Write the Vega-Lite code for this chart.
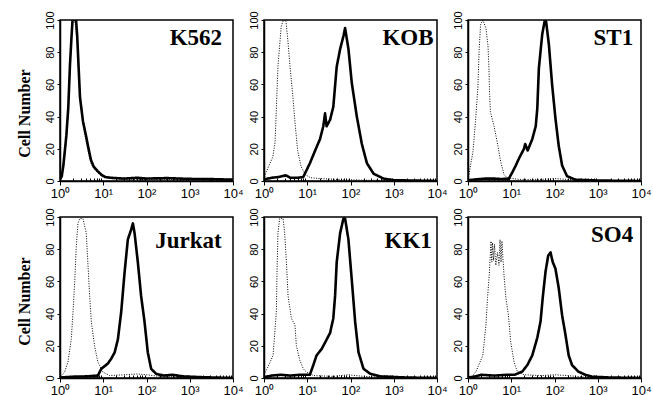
{
  "$schema": "https://vega.github.io/schema/vega-lite/v6.json",
  "background": "white",
  "padding": {"left": 15, "top": 10, "right": 5, "bottom": 2},
  "bounds": "flush",
  "spacing": {"row": 36, "column": 31},
  "columns": 3,
  "config": {
    "view": {"stroke": "black", "strokeWidth": 1.5},
    "axis": {
      "domainColor": "black", "domainWidth": 1.5, "tickColor": "black", "tickWidth": 1,
      "labelFont": "Liberation Sans", "labelColor": "black", "grid": false,
      "titleFont": "Liberation Serif", "titleFontWeight": "bold", "titleColor": "black"
    },
    "axisX": {"labelFontSize": 13, "labelPadding": 2, "labelFlush": false, "labelOverlap": false},
    "axisY": {"labelFontSize": 11, "labelAngle": 270, "labelPadding": 2, "tickSize": 3, "labelFlush": false, "labelOverlap": false, "titlePadding": 12, "titleFontSize": 16},
    "text": {"font": "Liberation Serif", "fontWeight": "bold", "fontSize": 23, "align": "right", "baseline": "middle", "color": "black"},
    "line": {"color": "black", "strokeJoin": "round", "interpolate": "linear"}
  },
  "datasets": {
    "d": [
      {"cell":"K562","type":"ctrl","x":1,"y":1},{"cell":"K562","type":"ctrl","x":1.2,"y":8},{"cell":"K562","type":"ctrl","x":1.4,"y":25},{"cell":"K562","type":"ctrl","x":1.55,"y":42},{"cell":"K562","type":"ctrl","x":1.7,"y":70},{"cell":"K562","type":"ctrl","x":1.85,"y":92},{"cell":"K562","type":"ctrl","x":2.0,"y":100},{"cell":"K562","type":"ctrl","x":2.25,"y":98},{"cell":"K562","type":"ctrl","x":2.5,"y":85},{"cell":"K562","type":"ctrl","x":2.8,"y":60},{"cell":"K562","type":"ctrl","x":3.0,"y":48},{"cell":"K562","type":"ctrl","x":3.4,"y":35},{"cell":"K562","type":"ctrl","x":4.0,"y":25},{"cell":"K562","type":"ctrl","x":4.5,"y":18},{"cell":"K562","type":"ctrl","x":5.2,"y":11},{"cell":"K562","type":"ctrl","x":6,"y":8},{"cell":"K562","type":"ctrl","x":7.5,"y":5},{"cell":"K562","type":"ctrl","x":9,"y":3},{"cell":"K562","type":"ctrl","x":11,"y":2},{"cell":"K562","type":"ctrl","x":15,"y":1.5},{"cell":"K562","type":"ctrl","x":30,"y":1},{"cell":"K562","type":"ctrl","x":100,"y":1},{"cell":"K562","type":"ctrl","x":1000,"y":0.8},{"cell":"K562","type":"ctrl","x":10000,"y":0.3},
      {"cell":"K562","type":"stain","x":1,"y":1},{"cell":"K562","type":"stain","x":1.1,"y":3},{"cell":"K562","type":"stain","x":1.2,"y":10},{"cell":"K562","type":"stain","x":1.4,"y":28},{"cell":"K562","type":"stain","x":1.55,"y":45},{"cell":"K562","type":"stain","x":1.7,"y":72},{"cell":"K562","type":"stain","x":1.85,"y":90},{"cell":"K562","type":"stain","x":1.95,"y":100},{"cell":"K562","type":"stain","x":2.35,"y":100},{"cell":"K562","type":"stain","x":2.5,"y":90},{"cell":"K562","type":"stain","x":2.7,"y":70},{"cell":"K562","type":"stain","x":2.9,"y":52},{"cell":"K562","type":"stain","x":3.4,"y":37},{"cell":"K562","type":"stain","x":4.0,"y":28},{"cell":"K562","type":"stain","x":4.5,"y":21},{"cell":"K562","type":"stain","x":5.2,"y":13},{"cell":"K562","type":"stain","x":6,"y":9},{"cell":"K562","type":"stain","x":7.5,"y":6},{"cell":"K562","type":"stain","x":9,"y":4},{"cell":"K562","type":"stain","x":11,"y":2.5},{"cell":"K562","type":"stain","x":15,"y":2},{"cell":"K562","type":"stain","x":30,"y":1.5},{"cell":"K562","type":"stain","x":60,"y":2},{"cell":"K562","type":"stain","x":100,"y":1.5},{"cell":"K562","type":"stain","x":300,"y":1.8},{"cell":"K562","type":"stain","x":1000,"y":1.3},{"cell":"K562","type":"stain","x":3000,"y":1.2},{"cell":"K562","type":"stain","x":10000,"y":0.8},

      {"cell":"KOB","type":"ctrl","x":1,"y":1},{"cell":"KOB","type":"ctrl","x":1.1,"y":5},{"cell":"KOB","type":"ctrl","x":1.6,"y":15},{"cell":"KOB","type":"ctrl","x":1.8,"y":24},{"cell":"KOB","type":"ctrl","x":1.9,"y":40},{"cell":"KOB","type":"ctrl","x":2.1,"y":71},{"cell":"KOB","type":"ctrl","x":2.5,"y":96},{"cell":"KOB","type":"ctrl","x":2.8,"y":100},{"cell":"KOB","type":"ctrl","x":3.2,"y":100},{"cell":"KOB","type":"ctrl","x":3.6,"y":86},{"cell":"KOB","type":"ctrl","x":4.0,"y":71},{"cell":"KOB","type":"ctrl","x":4.7,"y":51},{"cell":"KOB","type":"ctrl","x":5.3,"y":34},{"cell":"KOB","type":"ctrl","x":6.0,"y":19},{"cell":"KOB","type":"ctrl","x":7.2,"y":9},{"cell":"KOB","type":"ctrl","x":9,"y":4},{"cell":"KOB","type":"ctrl","x":12,"y":2},{"cell":"KOB","type":"ctrl","x":20,"y":1.5},{"cell":"KOB","type":"ctrl","x":50,"y":1},{"cell":"KOB","type":"ctrl","x":200,"y":0.5},{"cell":"KOB","type":"ctrl","x":1000,"y":0.3},{"cell":"KOB","type":"ctrl","x":10000,"y":0},
      {"cell":"KOB","type":"stain","x":1,"y":1},{"cell":"KOB","type":"stain","x":1.5,"y":2},{"cell":"KOB","type":"stain","x":2.2,"y":2.5},{"cell":"KOB","type":"stain","x":3.2,"y":3.5},{"cell":"KOB","type":"stain","x":4,"y":2},{"cell":"KOB","type":"stain","x":6,"y":2},{"cell":"KOB","type":"stain","x":8.1,"y":2.5},{"cell":"KOB","type":"stain","x":11.5,"y":11},{"cell":"KOB","type":"stain","x":16.4,"y":21},{"cell":"KOB","type":"stain","x":19.7,"y":26},{"cell":"KOB","type":"stain","x":23.5,"y":34},{"cell":"KOB","type":"stain","x":25.8,"y":42},{"cell":"KOB","type":"stain","x":28,"y":34},{"cell":"KOB","type":"stain","x":33.7,"y":38},{"cell":"KOB","type":"stain","x":40,"y":46},{"cell":"KOB","type":"stain","x":48,"y":71},{"cell":"KOB","type":"stain","x":57.6,"y":82},{"cell":"KOB","type":"stain","x":68.7,"y":90},{"cell":"KOB","type":"stain","x":75,"y":95},{"cell":"KOB","type":"stain","x":89.6,"y":82},{"cell":"KOB","type":"stain","x":107,"y":61},{"cell":"KOB","type":"stain","x":140,"y":40},{"cell":"KOB","type":"stain","x":183,"y":23},{"cell":"KOB","type":"stain","x":240,"y":11},{"cell":"KOB","type":"stain","x":343,"y":4.5},{"cell":"KOB","type":"stain","x":580,"y":1.5},{"cell":"KOB","type":"stain","x":1000,"y":0.5},{"cell":"KOB","type":"stain","x":10000,"y":0},

      {"cell":"ST1","type":"ctrl","x":1,"y":1},{"cell":"ST1","type":"ctrl","x":1.05,"y":4},{"cell":"ST1","type":"ctrl","x":1.3,"y":18},{"cell":"ST1","type":"ctrl","x":1.5,"y":38},{"cell":"ST1","type":"ctrl","x":1.7,"y":59},{"cell":"ST1","type":"ctrl","x":1.8,"y":80},{"cell":"ST1","type":"ctrl","x":1.95,"y":97},{"cell":"ST1","type":"ctrl","x":2.2,"y":100},{"cell":"ST1","type":"ctrl","x":2.6,"y":95},{"cell":"ST1","type":"ctrl","x":2.9,"y":84},{"cell":"ST1","type":"ctrl","x":3.05,"y":70},{"cell":"ST1","type":"ctrl","x":3.15,"y":55},{"cell":"ST1","type":"ctrl","x":3.3,"y":43},{"cell":"ST1","type":"ctrl","x":4.0,"y":34},{"cell":"ST1","type":"ctrl","x":4.9,"y":22},{"cell":"ST1","type":"ctrl","x":5.7,"y":12},{"cell":"ST1","type":"ctrl","x":6.8,"y":4},{"cell":"ST1","type":"ctrl","x":8,"y":2},{"cell":"ST1","type":"ctrl","x":15,"y":1},{"cell":"ST1","type":"ctrl","x":50,"y":1},{"cell":"ST1","type":"ctrl","x":100,"y":1.5},{"cell":"ST1","type":"ctrl","x":200,"y":1},{"cell":"ST1","type":"ctrl","x":1000,"y":0.3},{"cell":"ST1","type":"ctrl","x":10000,"y":0},
      {"cell":"ST1","type":"stain","x":1,"y":0.5},{"cell":"ST1","type":"stain","x":1.5,"y":1},{"cell":"ST1","type":"stain","x":2.5,"y":1.5},{"cell":"ST1","type":"stain","x":4,"y":1.5},{"cell":"ST1","type":"stain","x":6,"y":1.2},{"cell":"ST1","type":"stain","x":8.8,"y":1.5},{"cell":"ST1","type":"stain","x":10.6,"y":5.4},{"cell":"ST1","type":"stain","x":12.7,"y":9.6},{"cell":"ST1","type":"stain","x":15.1,"y":14},{"cell":"ST1","type":"stain","x":19.7,"y":20},{"cell":"ST1","type":"stain","x":21,"y":23},{"cell":"ST1","type":"stain","x":24,"y":19},{"cell":"ST1","type":"stain","x":30.6,"y":26},{"cell":"ST1","type":"stain","x":36.8,"y":34},{"cell":"ST1","type":"stain","x":40,"y":45},{"cell":"ST1","type":"stain","x":43.5,"y":70},{"cell":"ST1","type":"stain","x":52,"y":91},{"cell":"ST1","type":"stain","x":58.8,"y":99},{"cell":"ST1","type":"stain","x":64,"y":99},{"cell":"ST1","type":"stain","x":74,"y":85},{"cell":"ST1","type":"stain","x":88,"y":60},{"cell":"ST1","type":"stain","x":105,"y":39},{"cell":"ST1","type":"stain","x":125,"y":22},{"cell":"ST1","type":"stain","x":150,"y":9.6},{"cell":"ST1","type":"stain","x":195,"y":3},{"cell":"ST1","type":"stain","x":305,"y":0.8},{"cell":"ST1","type":"stain","x":1000,"y":0.3},{"cell":"ST1","type":"stain","x":10000,"y":0},

      {"cell":"Jurkat","type":"ctrl","x":1,"y":0.5},{"cell":"Jurkat","type":"ctrl","x":1.28,"y":3.7},{"cell":"Jurkat","type":"ctrl","x":1.53,"y":10},{"cell":"Jurkat","type":"ctrl","x":1.82,"y":24},{"cell":"Jurkat","type":"ctrl","x":2.0,"y":41},{"cell":"Jurkat","type":"ctrl","x":2.2,"y":61},{"cell":"Jurkat","type":"ctrl","x":2.38,"y":82},{"cell":"Jurkat","type":"ctrl","x":2.6,"y":96},{"cell":"Jurkat","type":"ctrl","x":2.85,"y":99},{"cell":"Jurkat","type":"ctrl","x":3.4,"y":99},{"cell":"Jurkat","type":"ctrl","x":4.05,"y":90},{"cell":"Jurkat","type":"ctrl","x":4.4,"y":72},{"cell":"Jurkat","type":"ctrl","x":4.85,"y":51},{"cell":"Jurkat","type":"ctrl","x":5.3,"y":35},{"cell":"Jurkat","type":"ctrl","x":6.3,"y":20},{"cell":"Jurkat","type":"ctrl","x":7.5,"y":10},{"cell":"Jurkat","type":"ctrl","x":9.8,"y":3.7},{"cell":"Jurkat","type":"ctrl","x":14,"y":1.5},{"cell":"Jurkat","type":"ctrl","x":30,"y":2},{"cell":"Jurkat","type":"ctrl","x":60,"y":2.5},{"cell":"Jurkat","type":"ctrl","x":100,"y":2},{"cell":"Jurkat","type":"ctrl","x":200,"y":1},{"cell":"Jurkat","type":"ctrl","x":1000,"y":0.3},{"cell":"Jurkat","type":"ctrl","x":10000,"y":0},
      {"cell":"Jurkat","type":"stain","x":1,"y":0.3},{"cell":"Jurkat","type":"stain","x":2,"y":0.8},{"cell":"Jurkat","type":"stain","x":4,"y":1},{"cell":"Jurkat","type":"stain","x":7.5,"y":1.5},{"cell":"Jurkat","type":"stain","x":9,"y":5.7},{"cell":"Jurkat","type":"stain","x":12.8,"y":9},{"cell":"Jurkat","type":"stain","x":15.3,"y":12},{"cell":"Jurkat","type":"stain","x":18.4,"y":16},{"cell":"Jurkat","type":"stain","x":21.8,"y":24},{"cell":"Jurkat","type":"stain","x":26,"y":41},{"cell":"Jurkat","type":"stain","x":31,"y":65},{"cell":"Jurkat","type":"stain","x":37,"y":86},{"cell":"Jurkat","type":"stain","x":44,"y":92},{"cell":"Jurkat","type":"stain","x":48.5,"y":96},{"cell":"Jurkat","type":"stain","x":53,"y":90},{"cell":"Jurkat","type":"stain","x":63,"y":72},{"cell":"Jurkat","type":"stain","x":75,"y":51},{"cell":"Jurkat","type":"stain","x":90,"y":35},{"cell":"Jurkat","type":"stain","x":107,"y":16},{"cell":"Jurkat","type":"stain","x":128,"y":5.7},{"cell":"Jurkat","type":"stain","x":167,"y":2.6},{"cell":"Jurkat","type":"stain","x":250,"y":1.5},{"cell":"Jurkat","type":"stain","x":400,"y":2},{"cell":"Jurkat","type":"stain","x":700,"y":1},{"cell":"Jurkat","type":"stain","x":2000,"y":0.5},{"cell":"Jurkat","type":"stain","x":10000,"y":0},

      {"cell":"KK1","type":"ctrl","x":1,"y":2},{"cell":"KK1","type":"ctrl","x":1.24,"y":7},{"cell":"KK1","type":"ctrl","x":1.62,"y":14},{"cell":"KK1","type":"ctrl","x":1.93,"y":41},{"cell":"KK1","type":"ctrl","x":2.0,"y":65},{"cell":"KK1","type":"ctrl","x":2.1,"y":90},{"cell":"KK1","type":"ctrl","x":2.3,"y":99},{"cell":"KK1","type":"ctrl","x":2.77,"y":99},{"cell":"KK1","type":"ctrl","x":3.0,"y":90},{"cell":"KK1","type":"ctrl","x":3.3,"y":72},{"cell":"KK1","type":"ctrl","x":3.6,"y":51},{"cell":"KK1","type":"ctrl","x":4.3,"y":37},{"cell":"KK1","type":"ctrl","x":5.2,"y":33},{"cell":"KK1","type":"ctrl","x":5.6,"y":20},{"cell":"KK1","type":"ctrl","x":6.75,"y":11},{"cell":"KK1","type":"ctrl","x":8.1,"y":5.7},{"cell":"KK1","type":"ctrl","x":9.6,"y":3.7},{"cell":"KK1","type":"ctrl","x":14,"y":1.5},{"cell":"KK1","type":"ctrl","x":40,"y":1},{"cell":"KK1","type":"ctrl","x":90,"y":2},{"cell":"KK1","type":"ctrl","x":200,"y":1},{"cell":"KK1","type":"ctrl","x":1000,"y":0.3},{"cell":"KK1","type":"ctrl","x":10000,"y":0},
      {"cell":"KK1","type":"stain","x":1,"y":0.5},{"cell":"KK1","type":"stain","x":1.5,"y":1.5},{"cell":"KK1","type":"stain","x":2.5,"y":2},{"cell":"KK1","type":"stain","x":4,"y":1.5},{"cell":"KK1","type":"stain","x":7,"y":2},{"cell":"KK1","type":"stain","x":11.5,"y":2},{"cell":"KK1","type":"stain","x":13.8,"y":8},{"cell":"KK1","type":"stain","x":16.4,"y":14},{"cell":"KK1","type":"stain","x":21.5,"y":18},{"cell":"KK1","type":"stain","x":25.8,"y":22},{"cell":"KK1","type":"stain","x":33.7,"y":28},{"cell":"KK1","type":"stain","x":40,"y":37},{"cell":"KK1","type":"stain","x":44,"y":51},{"cell":"KK1","type":"stain","x":48,"y":72},{"cell":"KK1","type":"stain","x":57.6,"y":90},{"cell":"KK1","type":"stain","x":68.7,"y":99},{"cell":"KK1","type":"stain","x":75,"y":99},{"cell":"KK1","type":"stain","x":89.6,"y":86},{"cell":"KK1","type":"stain","x":107,"y":61},{"cell":"KK1","type":"stain","x":128,"y":35},{"cell":"KK1","type":"stain","x":153,"y":16},{"cell":"KK1","type":"stain","x":200,"y":5.7},{"cell":"KK1","type":"stain","x":287,"y":2.6},{"cell":"KK1","type":"stain","x":500,"y":1},{"cell":"KK1","type":"stain","x":2000,"y":0.3},{"cell":"KK1","type":"stain","x":10000,"y":0},

      {"cell":"SO4","type":"ctrl","x":1.2,"y":0.5},{"cell":"SO4","type":"ctrl","x":1.53,"y":4},{"cell":"SO4","type":"ctrl","x":2.2,"y":14},{"cell":"SO4","type":"ctrl","x":2.6,"y":33},{"cell":"SO4","type":"ctrl","x":2.83,"y":50},{"cell":"SO4","type":"ctrl","x":3.1,"y":64},{"cell":"SO4","type":"ctrl","x":3.4,"y":85},{"cell":"SO4","type":"ctrl","x":3.55,"y":72},{"cell":"SO4","type":"ctrl","x":3.7,"y":84},{"cell":"SO4","type":"ctrl","x":3.9,"y":73},{"cell":"SO4","type":"ctrl","x":4.1,"y":83},{"cell":"SO4","type":"ctrl","x":4.4,"y":70},{"cell":"SO4","type":"ctrl","x":4.8,"y":78},{"cell":"SO4","type":"ctrl","x":5.2,"y":70},{"cell":"SO4","type":"ctrl","x":5.5,"y":86},{"cell":"SO4","type":"ctrl","x":5.8,"y":72},{"cell":"SO4","type":"ctrl","x":6.1,"y":85},{"cell":"SO4","type":"ctrl","x":6.4,"y":75},{"cell":"SO4","type":"ctrl","x":6.8,"y":64},{"cell":"SO4","type":"ctrl","x":7.5,"y":50},{"cell":"SO4","type":"ctrl","x":8.6,"y":39},{"cell":"SO4","type":"ctrl","x":9.7,"y":22.5},{"cell":"SO4","type":"ctrl","x":11.6,"y":10},{"cell":"SO4","type":"ctrl","x":13.8,"y":4},{"cell":"SO4","type":"ctrl","x":20,"y":2},{"cell":"SO4","type":"ctrl","x":50,"y":1.5},{"cell":"SO4","type":"ctrl","x":100,"y":2},{"cell":"SO4","type":"ctrl","x":200,"y":1.5},{"cell":"SO4","type":"ctrl","x":500,"y":0.5},{"cell":"SO4","type":"ctrl","x":10000,"y":0},
      {"cell":"SO4","type":"stain","x":1,"y":0.3},{"cell":"SO4","type":"stain","x":1.5,"y":1},{"cell":"SO4","type":"stain","x":2,"y":2},{"cell":"SO4","type":"stain","x":4,"y":1.5},{"cell":"SO4","type":"stain","x":8,"y":2},{"cell":"SO4","type":"stain","x":12,"y":2},{"cell":"SO4","type":"stain","x":18,"y":4},{"cell":"SO4","type":"stain","x":23.5,"y":8},{"cell":"SO4","type":"stain","x":30.6,"y":14},{"cell":"SO4","type":"stain","x":40,"y":25},{"cell":"SO4","type":"stain","x":47.5,"y":35},{"cell":"SO4","type":"stain","x":53.5,"y":50},{"cell":"SO4","type":"stain","x":62,"y":66},{"cell":"SO4","type":"stain","x":71.5,"y":76},{"cell":"SO4","type":"stain","x":81,"y":78},{"cell":"SO4","type":"stain","x":91,"y":72},{"cell":"SO4","type":"stain","x":105,"y":68},{"cell":"SO4","type":"stain","x":125,"y":56},{"cell":"SO4","type":"stain","x":150,"y":39},{"cell":"SO4","type":"stain","x":179,"y":27},{"cell":"SO4","type":"stain","x":213,"y":14},{"cell":"SO4","type":"stain","x":255,"y":8},{"cell":"SO4","type":"stain","x":355,"y":4},{"cell":"SO4","type":"stain","x":515,"y":2},{"cell":"SO4","type":"stain","x":735,"y":0.8},{"cell":"SO4","type":"stain","x":2000,"y":0.3},{"cell":"SO4","type":"stain","x":10000,"y":0}
    ]
  },
  "concat": [
    {"width": 173, "height": 161, "layer": [
      {"data": {"name": "d"}, "transform": [{"filter": "datum.cell == 'K562'"}], "mark": {"type": "line", "clip": true},
       "encoding": {
         "x": {"field": "x", "type": "quantitative", "scale": {"type": "log", "domain": [1, 10000], "nice": false}, "title": null,
               "axis": {"values": [1,2,3,4,5,6,7,8,9,10,20,30,40,50,60,70,80,90,100,200,300,400,500,600,700,800,900,1000,2000,3000,4000,5000,6000,7000,8000,9000,10000],
                        "labelExpr": "datum.value == 1 ? '10⁰' : datum.value == 10 ? '10¹' : datum.value == 100 ? '10²' : datum.value == 1000 ? '10³' : datum.value == 10000 ? '10⁴' : ''",
                        "tickSize": {"condition": {"test": "indexof([1,10,100,1000,10000], datum.value) >= 0", "value": 4}, "value": -3}}},
         "y": {"field": "y", "type": "quantitative", "scale": {"domain": [0, 100], "nice": false}, "title": "Cell Number", "axis": {"values": [0,20,40,60,80,100], "labelOverlap": false, "titleY": 93}},
         "detail": {"field": "type"},
         "strokeWidth": {"field": "type", "scale": {"domain": ["ctrl", "stain"], "range": [1, 2.6]}, "legend": null},
         "strokeDash": {"field": "type", "scale": {"domain": ["ctrl", "stain"], "range": [[1, 1.5], [1, 0]]}, "legend": null}
       }},
      {"data": {"values": [{"label": "K562"}]}, "mark": {"type": "text"},
       "encoding": {"text": {"field": "label"}, "x": {"datum": 5600, "type": "quantitative"},
         "y": {"datum": 89, "type": "quantitative", "title": "Cell Number", "axis": {"values": [0,20,40,60,80,100], "labelOverlap": false, "titleY": 93}}}}
    ]},
    {"width": 173, "height": 161, "layer": [
      {"data": {"name": "d"}, "transform": [{"filter": "datum.cell == 'KOB'"}], "mark": {"type": "line", "clip": true},
       "encoding": {
         "x": {"field": "x", "type": "quantitative", "scale": {"type": "log", "domain": [1, 10000], "nice": false}, "title": null,
               "axis": {"values": [1,2,3,4,5,6,7,8,9,10,20,30,40,50,60,70,80,90,100,200,300,400,500,600,700,800,900,1000,2000,3000,4000,5000,6000,7000,8000,9000,10000],
                        "labelExpr": "datum.value == 1 ? '10⁰' : datum.value == 10 ? '10¹' : datum.value == 100 ? '10²' : datum.value == 1000 ? '10³' : datum.value == 10000 ? '10⁴' : ''",
                        "tickSize": {"condition": {"test": "indexof([1,10,100,1000,10000], datum.value) >= 0", "value": 4}, "value": -3}}},
         "y": {"field": "y", "type": "quantitative", "scale": {"domain": [0, 100], "nice": false}, "title": null, "axis": {"values": [0,20,40,60,80,100], "labelOverlap": false}},
         "detail": {"field": "type"},
         "strokeWidth": {"field": "type", "scale": {"domain": ["ctrl", "stain"], "range": [1, 2.6]}, "legend": null},
         "strokeDash": {"field": "type", "scale": {"domain": ["ctrl", "stain"], "range": [[1, 1.5], [1, 0]]}, "legend": null}
       }},
      {"data": {"values": [{"label": "KOB"}]}, "mark": {"type": "text"},
       "encoding": {"text": {"field": "label"}, "x": {"datum": 8300, "type": "quantitative"},
         "y": {"datum": 89, "type": "quantitative", "title": null, "axis": {"values": [0,20,40,60,80,100], "labelOverlap": false}}}}
    ]},
    {"width": 173, "height": 161, "layer": [
      {"data": {"name": "d"}, "transform": [{"filter": "datum.cell == 'ST1'"}], "mark": {"type": "line", "clip": true},
       "encoding": {
         "x": {"field": "x", "type": "quantitative", "scale": {"type": "log", "domain": [1, 10000], "nice": false}, "title": null,
               "axis": {"values": [1,2,3,4,5,6,7,8,9,10,20,30,40,50,60,70,80,90,100,200,300,400,500,600,700,800,900,1000,2000,3000,4000,5000,6000,7000,8000,9000,10000],
                        "labelExpr": "datum.value == 1 ? '10⁰' : datum.value == 10 ? '10¹' : datum.value == 100 ? '10²' : datum.value == 1000 ? '10³' : datum.value == 10000 ? '10⁴' : ''",
                        "tickSize": {"condition": {"test": "indexof([1,10,100,1000,10000], datum.value) >= 0", "value": 4}, "value": -3}}},
         "y": {"field": "y", "type": "quantitative", "scale": {"domain": [0, 100], "nice": false}, "title": null, "axis": {"values": [0,20,40,60,80,100], "labelOverlap": false}},
         "detail": {"field": "type"},
         "strokeWidth": {"field": "type", "scale": {"domain": ["ctrl", "stain"], "range": [1, 2.6]}, "legend": null},
         "strokeDash": {"field": "type", "scale": {"domain": ["ctrl", "stain"], "range": [[1, 1.5], [1, 0]]}, "legend": null}
       }},
      {"data": {"values": [{"label": "ST1"}]}, "mark": {"type": "text"},
       "encoding": {"text": {"field": "label"}, "x": {"datum": 6600, "type": "quantitative"},
         "y": {"datum": 89, "type": "quantitative", "title": null, "axis": {"values": [0,20,40,60,80,100], "labelOverlap": false}}}}
    ]},
    {"width": 173, "height": 161, "layer": [
      {"data": {"name": "d"}, "transform": [{"filter": "datum.cell == 'Jurkat'"}], "mark": {"type": "line", "clip": true},
       "encoding": {
         "x": {"field": "x", "type": "quantitative", "scale": {"type": "log", "domain": [1, 10000], "nice": false}, "title": null,
               "axis": {"values": [1,2,3,4,5,6,7,8,9,10,20,30,40,50,60,70,80,90,100,200,300,400,500,600,700,800,900,1000,2000,3000,4000,5000,6000,7000,8000,9000,10000],
                        "labelExpr": "datum.value == 1 ? '10⁰' : datum.value == 10 ? '10¹' : datum.value == 100 ? '10²' : datum.value == 1000 ? '10³' : datum.value == 10000 ? '10⁴' : ''",
                        "tickSize": {"condition": {"test": "indexof([1,10,100,1000,10000], datum.value) >= 0", "value": 4}, "value": -3}}},
         "y": {"field": "y", "type": "quantitative", "scale": {"domain": [0, 100], "nice": false}, "title": "Cell Number", "axis": {"values": [0,20,40,60,80,100], "labelOverlap": false, "titleY": 84}},
         "detail": {"field": "type"},
         "strokeWidth": {"field": "type", "scale": {"domain": ["ctrl", "stain"], "range": [1, 2.6]}, "legend": null},
         "strokeDash": {"field": "type", "scale": {"domain": ["ctrl", "stain"], "range": [[1, 1.5], [1, 0]]}, "legend": null}
       }},
      {"data": {"values": [{"label": "Jurkat"}]}, "mark": {"type": "text"},
       "encoding": {"text": {"field": "label"}, "x": {"datum": 5500, "type": "quantitative"},
         "y": {"datum": 85, "type": "quantitative", "title": "Cell Number", "axis": {"values": [0,20,40,60,80,100], "labelOverlap": false, "titleY": 84}}}}
    ]},
    {"width": 173, "height": 161, "layer": [
      {"data": {"name": "d"}, "transform": [{"filter": "datum.cell == 'KK1'"}], "mark": {"type": "line", "clip": true},
       "encoding": {
         "x": {"field": "x", "type": "quantitative", "scale": {"type": "log", "domain": [1, 10000], "nice": false}, "title": null,
               "axis": {"values": [1,2,3,4,5,6,7,8,9,10,20,30,40,50,60,70,80,90,100,200,300,400,500,600,700,800,900,1000,2000,3000,4000,5000,6000,7000,8000,9000,10000],
                        "labelExpr": "datum.value == 1 ? '10⁰' : datum.value == 10 ? '10¹' : datum.value == 100 ? '10²' : datum.value == 1000 ? '10³' : datum.value == 10000 ? '10⁴' : ''",
                        "tickSize": {"condition": {"test": "indexof([1,10,100,1000,10000], datum.value) >= 0", "value": 4}, "value": -3}}},
         "y": {"field": "y", "type": "quantitative", "scale": {"domain": [0, 100], "nice": false}, "title": null, "axis": {"values": [0,20,40,60,80,100], "labelOverlap": false}},
         "detail": {"field": "type"},
         "strokeWidth": {"field": "type", "scale": {"domain": ["ctrl", "stain"], "range": [1, 2.6]}, "legend": null},
         "strokeDash": {"field": "type", "scale": {"domain": ["ctrl", "stain"], "range": [[1, 1.5], [1, 0]]}, "legend": null}
       }},
      {"data": {"values": [{"label": "KK1"}]}, "mark": {"type": "text"},
       "encoding": {"text": {"field": "label"}, "x": {"datum": 7600, "type": "quantitative"},
         "y": {"datum": 85, "type": "quantitative", "title": null, "axis": {"values": [0,20,40,60,80,100], "labelOverlap": false}}}}
    ]},
    {"width": 173, "height": 161, "layer": [
      {"data": {"name": "d"}, "transform": [{"filter": "datum.cell == 'SO4'"}], "mark": {"type": "line", "clip": true},
       "encoding": {
         "x": {"field": "x", "type": "quantitative", "scale": {"type": "log", "domain": [1, 10000], "nice": false}, "title": null,
               "axis": {"values": [1,2,3,4,5,6,7,8,9,10,20,30,40,50,60,70,80,90,100,200,300,400,500,600,700,800,900,1000,2000,3000,4000,5000,6000,7000,8000,9000,10000],
                        "labelExpr": "datum.value == 1 ? '10⁰' : datum.value == 10 ? '10¹' : datum.value == 100 ? '10²' : datum.value == 1000 ? '10³' : datum.value == 10000 ? '10⁴' : ''",
                        "tickSize": {"condition": {"test": "indexof([1,10,100,1000,10000], datum.value) >= 0", "value": 4}, "value": -3}}},
         "y": {"field": "y", "type": "quantitative", "scale": {"domain": [0, 100], "nice": false}, "title": null, "axis": {"values": [0,20,40,60,80,100], "labelOverlap": false}},
         "detail": {"field": "type"},
         "strokeWidth": {"field": "type", "scale": {"domain": ["ctrl", "stain"], "range": [1, 2.6]}, "legend": null},
         "strokeDash": {"field": "type", "scale": {"domain": ["ctrl", "stain"], "range": [[1, 1.5], [1, 0]]}, "legend": null}
       }},
      {"data": {"values": [{"label": "SO4"}]}, "mark": {"type": "text"},
       "encoding": {"text": {"field": "label"}, "x": {"datum": 6600, "type": "quantitative"},
         "y": {"datum": 89, "type": "quantitative", "title": null, "axis": {"values": [0,20,40,60,80,100], "labelOverlap": false}}}}
    ]}
  ]
}
